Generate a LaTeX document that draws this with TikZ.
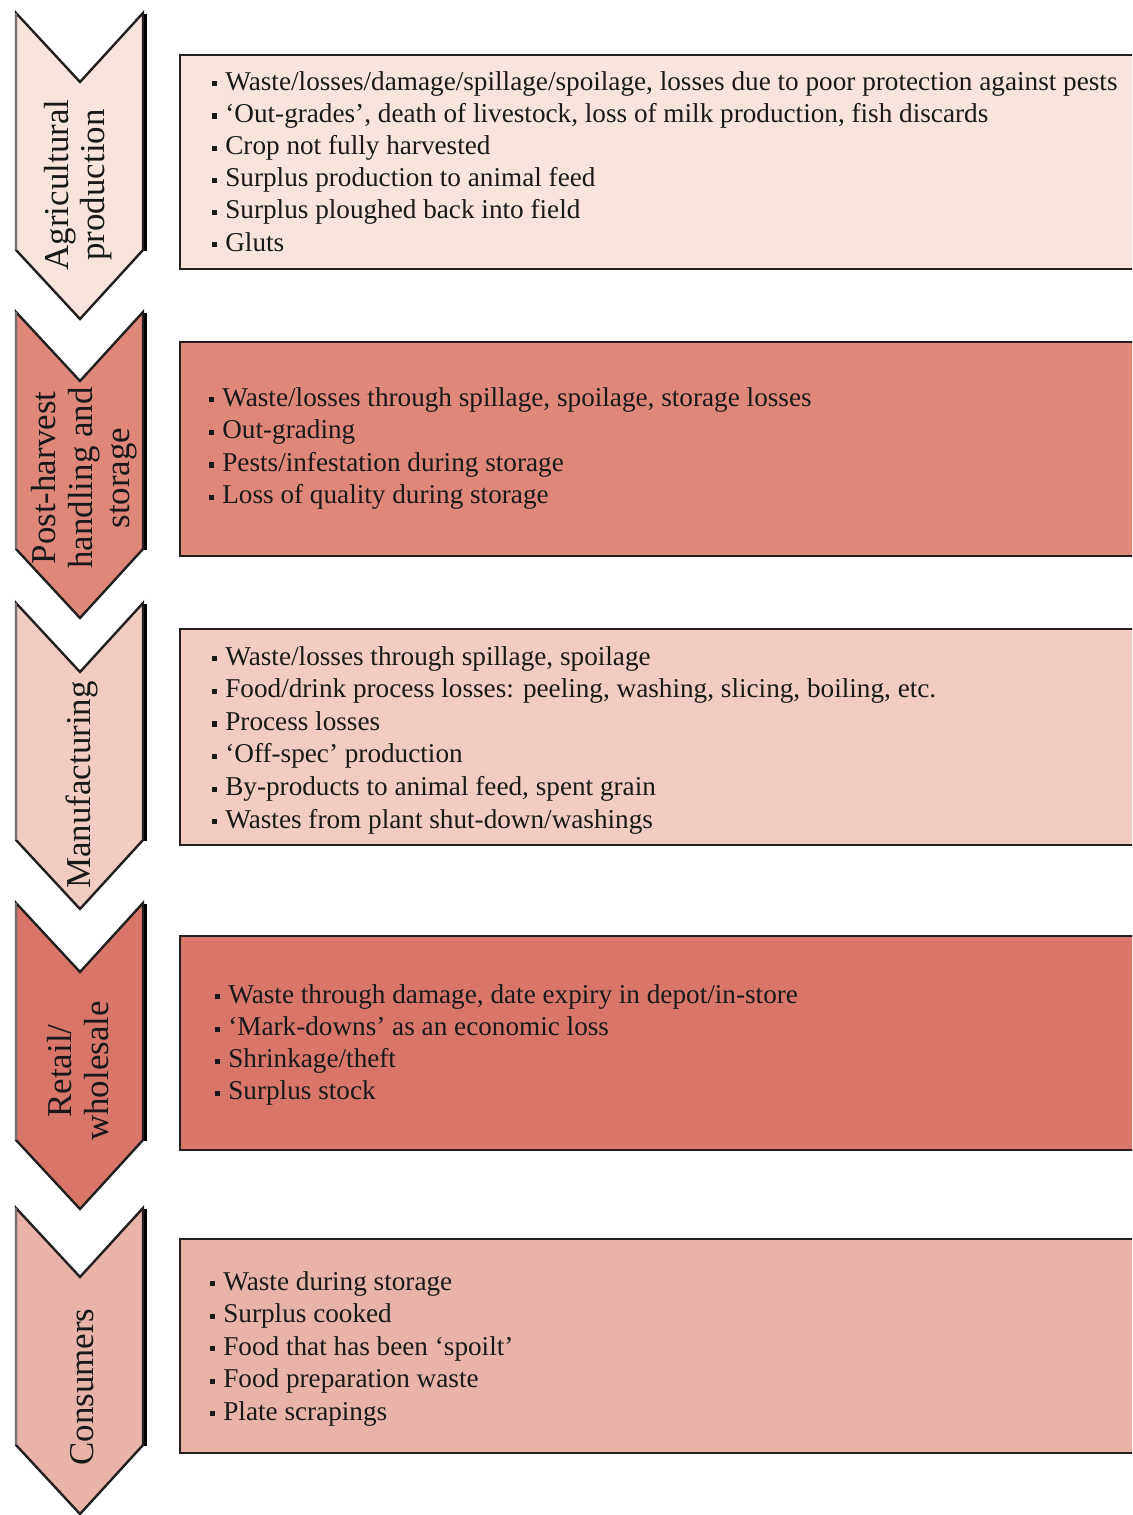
\documentclass[tikz,border=0pt]{standalone}
\usepackage{fontspec}
\setmainfont{Liberation Serif}
\begin{document}
\definecolor{agri}{HTML}{F8E4DD}
\definecolor{post}{HTML}{DF8879}
\definecolor{manu}{HTML}{F2CCC2}
\definecolor{retail}{HTML}{D8766A}
\definecolor{cons}{HTML}{E9B4A8}
\definecolor{edge}{HTML}{231F20}
\definecolor{edgegray}{HTML}{7A7272}
\definecolor{shade}{HTML}{DCDCDC}
\newcommand{\bul}{\raisebox{2.8pt}{\rule{3.8pt}{3.8pt}}\hspace{6pt}}
\begin{tikzpicture}[x=0.75pt,y=-0.75pt,
  stagebox/.style={draw=edge,line width=2.2pt},
  chevedge/.style={draw=edge,line width=1.8pt,line join=miter},
  item/.style={anchor=mid west,inner sep=0pt,font=\fontsize{20.4}{24}\selectfont,text=black!90},
  stagelabel/.style={rotate=90,align=center,inner sep=0pt,font=\fontsize{26.2}{27.5}\selectfont,text=black!90}]
\useasboundingbox (0,0) rectangle (1132,1515);
\clip (0,0) rectangle (1132,1515);
\fill[white] (0,0) rectangle (1132,1515);

% chevron: top at #1, fill colour #2, with a soft shade on the right side
\newcommand{\chev}[2]{%
  \draw[shade,line width=2pt] (145.5,#1+1) -- (145.5,#1+238);
  \path[fill=#2,chevedge] (16,#1) -- (80,#1+69) -- (143,#1) -- (143,#1+237)
     -- (80,#1+306) -- (16,#1+237) -- cycle;
  \draw[edgegray,line width=1.8pt] (16,#1) -- (16,#1+237);
}

% stage boxes (open to the right edge)
\draw[stagebox,fill=agri]   (180,55)   rectangle (1145,269);
\draw[stagebox,fill=post]   (180,342)  rectangle (1145,556);
\draw[stagebox,fill=manu]   (180,629)  rectangle (1145,845);
\draw[stagebox,fill=retail] (180,936)  rectangle (1145,1150);
\draw[stagebox,fill=cons]   (180,1239) rectangle (1145,1453);

% chevrons
\chev{13}{agri}
\chev{312}{post}
\chev{603}{manu}
\chev{903}{retail}
\chev{1208}{cons}

% stage labels
\node[stagelabel] (lab1) at (78,185)  {Agricultural\\production};
\node[stagelabel] (lab2) at (84,478)  {Post-harvest\\handling and\\storage};
\node[stagelabel] (lab3) at (82,785)  {Manufacturing};
\node[stagelabel] (lab4) at (78,1071) {Retail/\\wholesale};
\node[stagelabel] (lab5) at (82,1387) {Consumers};

% item lists
\foreach \t [count=\i] in {%
  {Waste/losses/damage/spillage/spoilage, losses due to poor protection against pests},
  {‘Out-grades’, death of livestock, loss of milk production, fish discards},
  {Crop not fully harvested},
  {Surplus production to animal feed},
  {Surplus ploughed back into field},
  {Gluts}}
  \node[item] (a\i) at (212,87+32.2*\i-32.2) {\bul\t};

\foreach \t [count=\i] in {%
  {Waste/losses through spillage, spoilage, storage losses},
  {Out-grading},
  {Pests/infestation during storage},
  {Loss of quality during storage}}
  \node[item] (p\i) at (209,403+32.6*\i-32.6) {\bul\t};

\foreach \t [count=\i] in {%
  {Waste/losses through spillage, spoilage},
  {Food/drink process losses: peeling, washing, slicing, boiling, etc.},
  {Process losses},
  {‘Off-spec’ production},
  {By-products to animal feed, spent grain},
  {Wastes from plant shut-down/washings}}
  \node[item] (m\i) at (212,662+32.6*\i-32.6) {\bul\t};

\foreach \t [count=\i] in {%
  {Waste through damage, date expiry in depot/in-store},
  {‘Mark-downs’ as an economic loss},
  {Shrinkage/theft},
  {Surplus stock}}
  \node[item] (r\i) at (215,1000+32.3*\i-32.3) {\bul\t};

\foreach \t [count=\i] in {%
  {Waste during storage},
  {Surplus cooked},
  {Food that has been ‘spoilt’},
  {Food preparation waste},
  {Plate scrapings}}
  \node[item] (c\i) at (210,1287+32.5*\i-32.5) {\bul\t};
\end{tikzpicture}
\end{document}
